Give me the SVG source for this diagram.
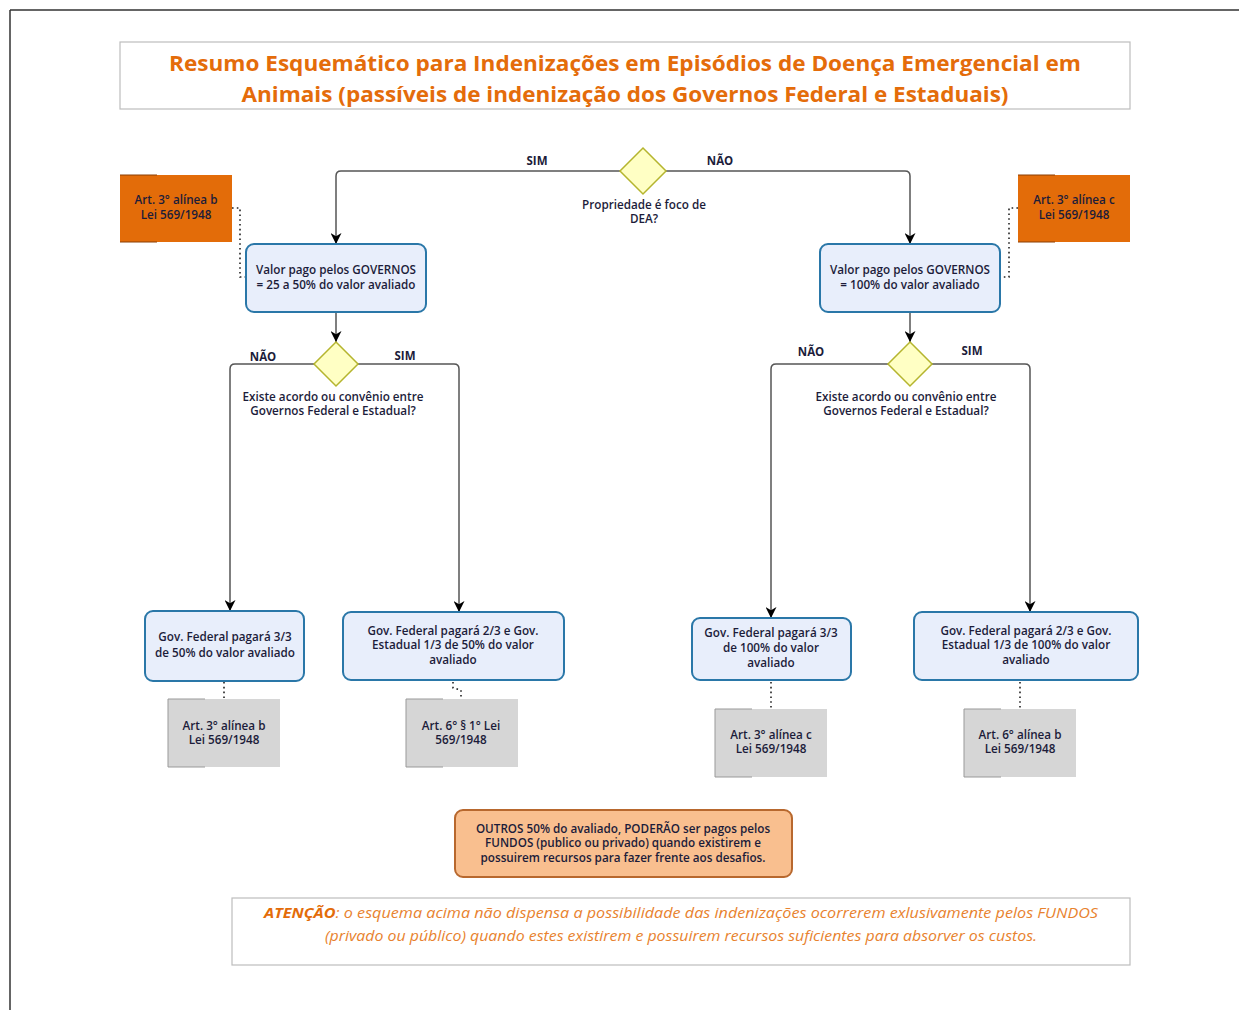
<svg xmlns="http://www.w3.org/2000/svg" width="1239" height="1010" viewBox="0 0 1239 1010">
<defs>
<marker id="arr" viewBox="0 0 10 10" refX="10" refY="5" markerWidth="11" markerHeight="11" markerUnits="userSpaceOnUse" orient="auto">
<path d="M0,0 L10,5 L0,10 L3,5 z" fill="#000"/>
</marker>
<style>
.t{font-family:"Open Sans","Liberation Sans",sans-serif;font-size:11.7px;font-weight:600;fill:#1c1c3a;text-anchor:middle}
.lbl{font-family:"Open Sans","Liberation Sans",sans-serif;font-size:11.5px;font-weight:700;fill:#1c1c3a;text-anchor:middle}
.box{fill:#E8EEFB;stroke:#2A77A8;stroke-width:2}
.dia{fill:#FFFFC4;stroke:#B5B52E;stroke-width:1.5}
.org{fill:#E36C09}
.gry{fill:#D6D6D6}
.edge{fill:none;stroke:#555;stroke-width:1.5}
.dot{fill:none;stroke:#222;stroke-width:1.6;stroke-dasharray:1.6 3.2}
.ttl{font-family:"Open Sans","Liberation Sans",sans-serif;font-size:21px;font-weight:700;fill:#E46C0A;text-anchor:middle}
.att{font-family:"Open Sans","Liberation Sans",sans-serif;font-size:14px;font-style:italic;fill:#E8822E;text-anchor:middle}
</style>
</defs>
<rect width="1239" height="1010" fill="#fff"/>
<g id="frame">
<path d="M10,10 H1239 M10,10 V1010" fill="none" stroke="#333" stroke-width="1.5"/>
</g>
<g id="title">
<rect x="120" y="42" width="1010" height="67" fill="#fff" stroke="#BDBDBD" stroke-width="1.2"/>
<text class="ttl" x="625" y="71" textLength="912" lengthAdjust="spacingAndGlyphs">Resumo Esquemático para Indenizações em Episódios de Doença Emergencial em</text>
<text class="ttl" x="625" y="102" textLength="767" lengthAdjust="spacingAndGlyphs">Animais (passíveis de indenização dos Governos Federal e Estaduais)</text>
</g>
<g id="connectors">
<path class="edge" d="M621,171 H341 Q336,171 336,176 V244" marker-end="url(#arr)"/>
<path class="edge" d="M665,171 H905 Q910,171 910,176 V244" marker-end="url(#arr)"/>
<path class="edge" d="M336,312 V342" marker-end="url(#arr)"/>
<path class="edge" d="M910,312 V342" marker-end="url(#arr)"/>
<path class="edge" d="M314,364 H235 Q230,364 230,369 V611" marker-end="url(#arr)"/>
<path class="edge" d="M358,364 H454 Q459,364 459,369 V612" marker-end="url(#arr)"/>
<path class="edge" d="M888,364 H776 Q771,364 771,369 V618" marker-end="url(#arr)"/>
<path class="edge" d="M932,364 H1025 Q1030,364 1030,369 V612" marker-end="url(#arr)"/>
<path class="dot" d="M232,208 H240 V277 H246"/>
<path class="dot" d="M1018,208 H1009 V277 H1000"/>
<path class="dot" d="M224,682 V699"/>
<path class="dot" d="M453,682 V688 L461,690 V699"/>
<path class="dot" d="M771,682 V709"/>
<path class="dot" d="M1020,682 V709" stroke-width="2.2"/>
<text class="lbl" x="537" y="165">SIM</text>
<text class="lbl" x="720" y="165">NÃO</text>
<text class="lbl" x="263" y="361">NÃO</text>
<text class="lbl" x="405" y="360">SIM</text>
<text class="lbl" x="811" y="356">NÃO</text>
<text class="lbl" x="972" y="355">SIM</text>
</g>
<g id="d1">
<path class="dia" d="M643,148 L666,171 L643,194 L620,171 z"/>
<text class="t" x="644" y="209">Propriedade é foco de</text>
<text class="t" x="644" y="223">DEA?</text>
</g>
<g id="d2">
<path class="dia" d="M336,342 L358,364 L336,386 L314,364 z"/>
<text class="t" x="333" y="401">Existe acordo ou convênio entre</text>
<text class="t" x="333" y="415">Governos Federal e Estadual?</text>
</g>
<g id="d3">
<path class="dia" d="M910,342 L932,364 L910,386 L888,364 z"/>
<text class="t" x="906" y="401">Existe acordo ou convênio entre</text>
<text class="t" x="906" y="415">Governos Federal e Estadual?</text>
</g>
<g id="o1">
<rect class="org" x="120" y="175" width="112" height="67"/>
<path d="M120,175 H157 M120,242 H157" stroke="#8a3e05" stroke-width="1"/>
<text class="t" x="176" y="204">Art. 3° alínea b</text>
<text class="t" x="176" y="219">Lei 569/1948</text>
</g>
<g id="o2">
<rect class="org" x="1018" y="175" width="112" height="67"/>
<path d="M1018,175 H1055 M1018,242 H1055" stroke="#8a3e05" stroke-width="1"/>
<text class="t" x="1074" y="204">Art. 3° alínea c</text>
<text class="t" x="1074" y="219">Lei 569/1948</text>
</g>
<g id="v1">
<rect class="box" x="246" y="244" width="180" height="68" rx="8"/>
<text class="t" x="336" y="274">Valor pago pelos GOVERNOS</text>
<text class="t" x="336" y="289">= 25 a 50% do valor avaliado</text>
</g>
<g id="v2">
<rect class="box" x="820" y="244" width="180" height="68" rx="8"/>
<text class="t" x="910" y="274">Valor pago pelos GOVERNOS</text>
<text class="t" x="910" y="289">= 100% do valor avaliado</text>
</g>
<g id="b1">
<rect class="box" x="145" y="611" width="159" height="70" rx="8"/>
<text class="t" x="225" y="641">Gov. Federal pagará 3/3</text>
<text class="t" x="225" y="657">de 50% do valor avaliado</text>
</g>
<g id="b2">
<rect class="box" x="343" y="612" width="221" height="68" rx="8"/>
<text class="t" x="453" y="635">Gov. Federal pagará 2/3 e Gov.</text>
<text class="t" x="453" y="649">Estadual 1/3 de 50% do valor</text>
<text class="t" x="453" y="664">avaliado</text>
</g>
<g id="b3">
<rect class="box" x="692" y="618" width="159" height="62" rx="8"/>
<text class="t" x="771" y="637">Gov. Federal pagará 3/3</text>
<text class="t" x="771" y="652">de 100% do valor</text>
<text class="t" x="771" y="667">avaliado</text>
</g>
<g id="b4">
<rect class="box" x="914" y="612" width="224" height="68" rx="8"/>
<text class="t" x="1026" y="635">Gov. Federal pagará 2/3 e Gov.</text>
<text class="t" x="1026" y="649">Estadual 1/3 de 100% do valor</text>
<text class="t" x="1026" y="664">avaliado</text>
</g>
<g id="g1">
<rect class="gry" x="168" y="699" width="112" height="68"/>
<path d="M168,699 H205 M168,699 V767 H205" fill="none" stroke="#999" stroke-width="1"/>
<text class="t" x="224" y="730">Art. 3° alínea b</text>
<text class="t" x="224" y="744">Lei 569/1948</text>
</g>
<g id="g2">
<rect class="gry" x="406" y="699" width="112" height="68"/>
<path d="M406,699 H443 M406,699 V767 H443" fill="none" stroke="#999" stroke-width="1"/>
<text class="t" x="461" y="730">Art. 6° § 1° Lei</text>
<text class="t" x="461" y="744">569/1948</text>
</g>
<g id="g3">
<rect class="gry" x="715" y="709" width="112" height="68"/>
<path d="M715,709 H752 M715,709 V777 H752" fill="none" stroke="#999" stroke-width="1"/>
<text class="t" x="771" y="739">Art. 3° alínea c</text>
<text class="t" x="771" y="753">Lei 569/1948</text>
</g>
<g id="g4">
<rect class="gry" x="964" y="709" width="112" height="68"/>
<path d="M964,709 H1001 M964,709 V777 H1001" fill="none" stroke="#999" stroke-width="1"/>
<text class="t" x="1020" y="739">Art. 6° alínea b</text>
<text class="t" x="1020" y="753">Lei 569/1948</text>
</g>
<g id="note">
<rect x="455" y="810" width="337" height="67" rx="8" fill="#F9BF8F" stroke="#B8682E" stroke-width="2"/>
<text class="t" x="623" y="833">OUTROS 50% do avaliado, PODERÃO ser pagos pelos</text>
<text class="t" x="623" y="847">FUNDOS (publico ou privado) quando existirem e</text>
<text class="t" x="623" y="862">possuirem recursos para fazer frente aos desafios.</text>
</g>
<g id="attention">
<rect x="232" y="898" width="898" height="67" fill="#fff" stroke="#BDBDBD" stroke-width="1.2"/>
<text class="att" x="681" y="918" textLength="834" lengthAdjust="spacingAndGlyphs"><tspan font-weight="700" fill="#E36C09">ATENÇÃO</tspan>: o esquema acima não dispensa a possibilidade das indenizações ocorrerem exlusivamente pelos FUNDOS</text>
<text class="att" x="681" y="941" textLength="712" lengthAdjust="spacingAndGlyphs">(privado ou público) quando estes existirem e possuirem recursos suficientes para absorver os custos.</text>
</g>
</svg>
